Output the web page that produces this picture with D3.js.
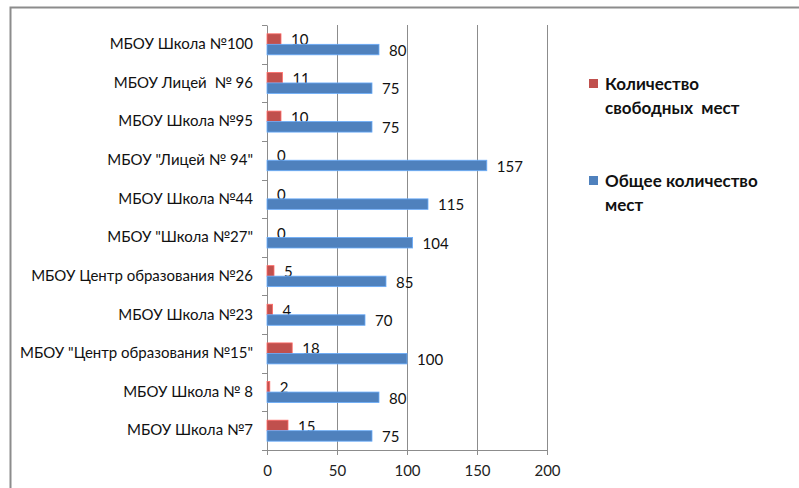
<!DOCTYPE html>
<html>
<head>
<meta charset="utf-8">
<script src="https://cdnjs.cloudflare.com/ajax/libs/d3/7.8.5/d3.min.js"></script>
<style>
  body { margin: 0; background: #fff; }
  text { font-family: Lato, "Open Sans", sans-serif; }
</style>
</head>
<body>
<div id="chart"></div>
<script>
// categories top to bottom
var schools = [
  'МБОУ Школа №100',
  'МБОУ Лицей  № 96',
  'МБОУ Школа №95',
  'МБОУ "Лицей № 94"',
  'МБОУ Школа №44',
  'МБОУ "Школа №27"',
  'МБОУ Центр образования №26',
  'МБОУ Школа №23',
  'МБОУ "Центр образования №15"',
  'МБОУ Школа № 8',
  'МБОУ Школа №7'
];
var freePlaces = [10, 11, 10, 0, 0, 0, 5, 4, 18, 2, 15];
var totalPlaces = [80, 75, 75, 157, 115, 104, 85, 70, 100, 80, 75];
var xTicks = [0, 50, 100, 150, 200];
var seriesNames = [['Количество', 'свободных  мест'], ['Общее количество', 'мест']];
var colors = ['#C0504D', '#4F81BD'];

var fullWidth = 799, fullHeight = 488;
var margin = {top: 25, left: 267, right: 252, bottom: 38};
var width = fullWidth - margin.left - margin.right;
var height = fullHeight - margin.top - margin.bottom;

var svg = d3.select('#chart').append('svg')
  .attr('width', fullWidth)
  .attr('height', fullHeight);

// chart frame (only top and left edges are visible)
svg.append('rect')
  .attr('x', 10.5).attr('y', 7.5)
  .attr('width', 820).attr('height', 520)
  .attr('fill', 'none')
  .attr('stroke', '#8c8c8c')
  .attr('stroke-width', 2);

var g = svg.append('g')
  .attr('transform', 'translate(' + margin.left + ',' + margin.top + ')');

var x = d3.scaleLinear().domain([0, 200]).range([0, width]);
var y = d3.scaleBand().domain(schools).range([0, height]);

// gridlines
g.selectAll('line.grid')
  .data(xTicks.slice(1))
  .enter().append('line')
    .attr('x1', function(d) { return Math.round(x(d)) + 0.5; })
    .attr('x2', function(d) { return Math.round(x(d)) + 0.5; })
    .attr('y1', 0).attr('y2', height)
    .attr('stroke', '#8c8c8c');

// x axis
var xAxis = g.append('g')
  .attr('transform', 'translate(0,' + height + ')')
  .call(d3.axisBottom(x).tickValues(xTicks).tickSize(5).tickPadding(10).tickSizeOuter(0));
xAxis.select('.domain').attr('stroke', '#8c8c8c').attr('d', 'M-5,0.5H' + width);
xAxis.selectAll('.tick line').attr('stroke', '#8c8c8c');
xAxis.selectAll('.tick text').attr('font-size', 15).attr('fill', '#222');

// y axis with ticks on category boundaries
var yAxis = g.append('g').call(d3.axisLeft(y).tickSize(0).tickPadding(14));
yAxis.select('.domain').attr('stroke', '#8c8c8c');
yAxis.selectAll('.tick text').attr('font-size', 15).attr('fill', '#111').style('white-space', 'pre');
g.selectAll('line.ytick')
  .data(d3.range(schools.length))
  .enter().append('line')
    .attr('x1', -5).attr('x2', 0)
    .attr('y1', function(i) { return Math.round(y(schools[i])) + 0.5; })
    .attr('y2', function(i) { return Math.round(y(schools[i])) + 0.5; })
    .attr('stroke', '#8c8c8c');

var barH = 10.5;
var series = [freePlaces, totalPlaces];

series.forEach(function(vals, s) {
  var off = y.bandwidth() / 2 - barH + s * barH;
  g.selectAll('rect.s' + s)
    .data(vals)
    .enter().append('rect')
      .attr('x', 0)
      .attr('y', function(d, i) { return y(schools[i]) + off; })
      .attr('width', function(d) { return x(d); })
      .attr('height', barH)
      .attr('fill', colors[s])
      .attr('stroke', d3.color(colors[s]).brighter(0.8))
      .attr('stroke-width', 0.8);

  g.selectAll('text.l' + s)
    .data(vals)
    .enter().append('text')
      .attr('x', function(d) { return x(d) + 10; })
      .attr('y', function(d, i) { return y(schools[i]) + off + barH / 2 + 1; })
      .attr('dy', '0.35em')
      .attr('font-size', 15)
      .attr('fill', '#111')
      .text(function(d) { return d; });
});

// legend
var legend = svg.append('g');
var legendY = [84, 181];
seriesNames.forEach(function(lines, s) {
  legend.append('rect')
    .attr('x', 589).attr('y', legendY[s] - 5)
    .attr('width', 9).attr('height', 9)
    .attr('fill', colors[s]);
  lines.forEach(function(t, k) {
    legend.append('text')
      .attr('x', 605)
      .attr('y', legendY[s] + k * 24)
      .attr('dy', '0.35em')
      .attr('font-size', 17)
      .attr('font-weight', 'bold')
      .attr('fill', '#111')
      .style('white-space', 'pre')
      .text(t);
  });
});
</script>
</body>
</html>
